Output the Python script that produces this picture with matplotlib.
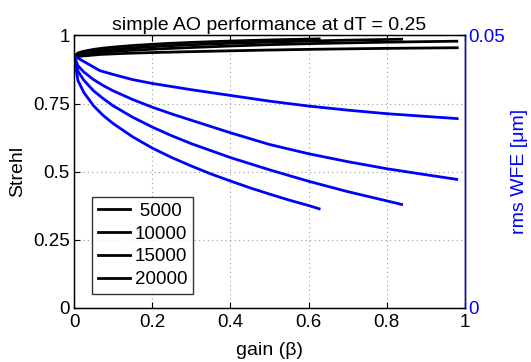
import matplotlib
matplotlib.use("Agg")
import matplotlib.pyplot as plt

plt.rcParams['font.family'] = ['Liberation Sans', 'DejaVu Sans']

# loop gain samples, rms wavefront error (um) and Strehl for each case
gain_a = [0, 0.066, 0.1, 0.15, 0.2, 0.3, 0.4, 0.5, 0.6, 0.7, 0.8, 0.9, 0.98]
wfe_a = [0.04625, 0.04355, 0.04285, 0.0419, 0.0412, 0.04005, 0.039, 0.03795,
         0.03705, 0.0363, 0.03565, 0.03515, 0.03475]
strehl_a = [0.9217, 0.9303, 0.9325, 0.9353, 0.9373, 0.9407, 0.9437, 0.9466,
            0.9490, 0.9510, 0.9527, 0.9540, 0.9550]

gain_b = [0, 0.01, 0.025, 0.05, 0.075, 0.1, 0.15, 0.2, 0.25, 0.3, 0.4, 0.5,
          0.6, 0.7, 0.8, 0.9, 0.979]
wfe_b = [0.04625, 0.04445, 0.0433, 0.0419, 0.0408, 0.03985, 0.03825, 0.03685,
         0.0356, 0.03445, 0.03215, 0.030, 0.0283, 0.02685, 0.02555, 0.02445, 0.0236]
strehl_b = [0.9217, 0.9275, 0.9311, 0.9353, 0.9386, 0.9413, 0.9458, 0.9496,
            0.9528, 0.9558, 0.9614, 0.9663, 0.9700, 0.9729, 0.9754, 0.9775, 0.9790]

gain_c = [0, 0.01, 0.025, 0.05, 0.075, 0.1, 0.15, 0.2, 0.25, 0.3, 0.4, 0.5,
          0.6, 0.7, 0.8, 0.838]
wfe_c = [0.04625, 0.04345, 0.0418, 0.03985, 0.0384, 0.0371, 0.035, 0.0332,
         0.0316, 0.03015, 0.0276, 0.02535, 0.02325, 0.02135, 0.01965, 0.019]
strehl_c = [0.9217, 0.9306, 0.9356, 0.9413, 0.9454, 0.9489, 0.9544, 0.9589,
            0.9627, 0.9660, 0.9714, 0.9758, 0.9796, 0.9828, 0.9854, 0.9863]

gain_d = [0, 0.01, 0.025, 0.05, 0.075, 0.1, 0.15, 0.2, 0.25, 0.3, 0.35, 0.4,
          0.45, 0.5, 0.55, 0.6, 0.627]
wfe_d = [0.04625, 0.04175, 0.03955, 0.0371, 0.0353, 0.03385, 0.0314, 0.02935,
         0.0276, 0.02605, 0.0246, 0.0233, 0.02205, 0.0209, 0.0198, 0.0188, 0.0182]
strehl_d = [0.9217, 0.9358, 0.9421, 0.9489, 0.9536, 0.9573, 0.9631, 0.9677,
            0.9714, 0.9745, 0.9772, 0.9795, 0.9817, 0.9835, 0.9852, 0.9866, 0.9875]

# legend entries (four-per-em space keeps the 4-digit label centred)
labels = ['\u20055000', '10000', '15000', '20000']

gains = [gain_a, gain_b, gain_c, gain_d]
strehls = [strehl_a, strehl_b, strehl_c, strehl_d]
wfes = [wfe_a, wfe_b, wfe_c, wfe_d]

#=======================================================
fig = plt.figure(figsize=(5.31, 3.62), dpi=100)
ax = fig.add_axes([0.1394, 0.1492, 0.7363, 0.7528])

for g, s, lab in zip(gains, strehls, labels):
    ax.plot(g, s, color='k', lw=2, label=lab)

ax.set_xlim(0, 1)
ax.set_ylim(0, 1)
ax.set_xticks([0, 0.2, 0.4, 0.6, 0.8, 1])
ax.set_xticklabels(['0', '0.2', '0.4', '0.6', '0.8', '1'])
ax.set_yticks([0, 0.25, 0.5, 0.75, 1])
ax.set_yticklabels(['0', '0.25', '0.5', '0.75', '1'])
ax.tick_params(direction='in', top=True, right=True, labelsize=13.5,
               length=4, width=0.8)
ax.tick_params(axis='x', pad=4)
ax.tick_params(axis='y', pad=3)
ax.grid(True, color='0.6', linestyle=(0, (1, 3)), linewidth=0.8)
for sp in ax.spines.values():
    sp.set_linewidth(1.0)
ax.set_xlabel('gain (\u03b2)', fontsize=14, labelpad=8)
ax.set_ylabel('Strehl', fontsize=14, labelpad=5)
ax.set_title('simple AO performance at dT = 0.25', fontsize=14, pad=4)

leg = ax.legend(loc='lower left', bbox_to_anchor=(0.046, 0.051), fontsize=13.5,
                frameon=True, fancybox=False, edgecolor='k', handlelength=1.7,
                handletextpad=0.25, borderpad=0.32, labelspacing=0.3,
                borderaxespad=0)
leg.get_frame().set_linewidth(1.0)

#=======================================================
ax2 = ax.twinx()
for g, w in zip(gains, wfes):
    ax2.plot(g, w, color='b', lw=2)
ax2.set_ylim(0, 0.05)
ax2.set_yticks([0, 0.05])
ax2.set_yticklabels(['0', '0.05'])
ax2.tick_params(direction='in', colors='b', labelsize=13.5, length=4, pad=2)
ax2.spines['right'].set_color('b')
ax2.spines['right'].set_linewidth(1.0)
ax2.set_ylabel('rms WFE [\u03bcm]', color='b', fontsize=14, labelpad=5)

fig.savefig('out.png', dpi=100)
